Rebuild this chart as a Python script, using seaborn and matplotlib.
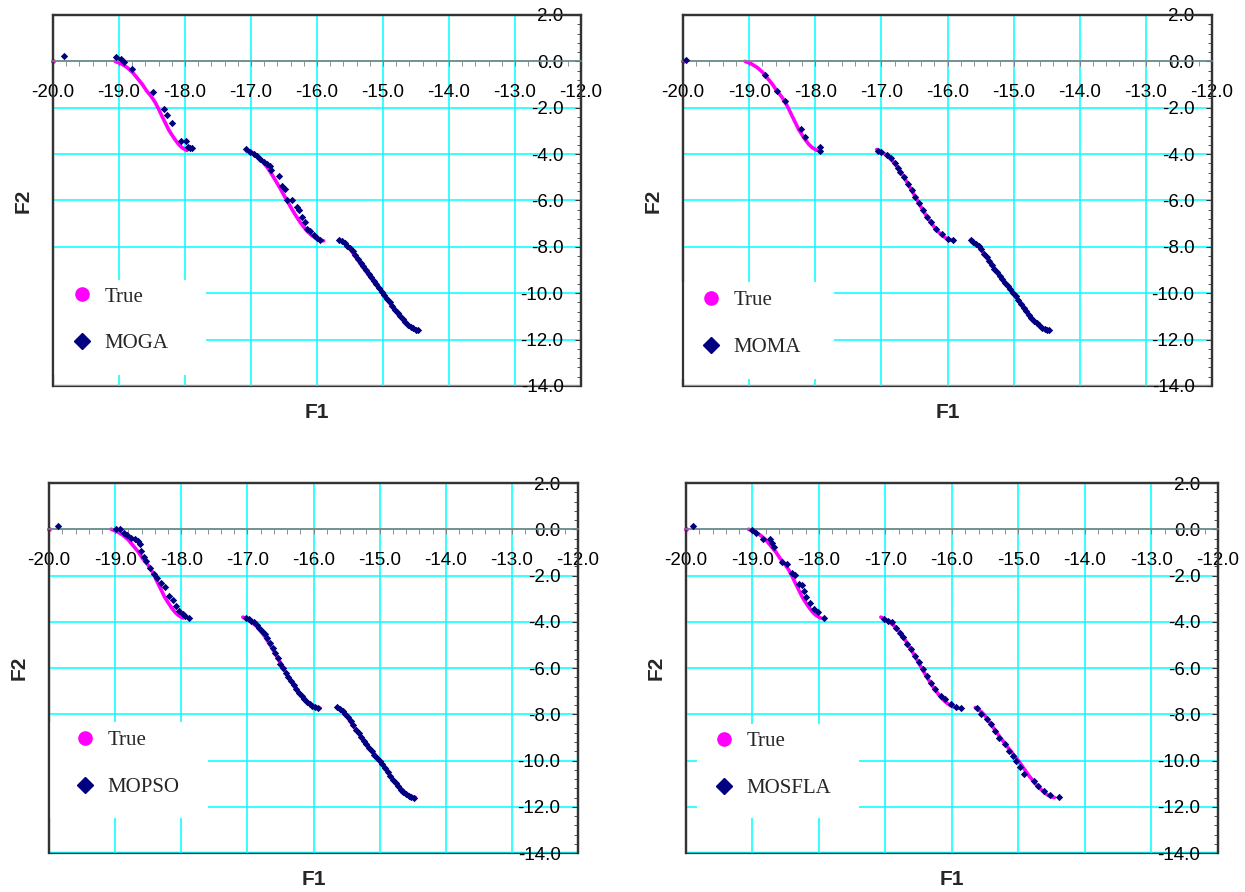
import pandas as pd
import matplotlib
matplotlib.use('Agg')
import matplotlib.pyplot as plt
from matplotlib.lines import Line2D
from matplotlib.patches import Rectangle
from matplotlib.ticker import MultipleLocator, FormatStrFormatter
import seaborn as sns

# true Pareto front: lone point at F1=-20 plus three pieces
true_iso_f1 = [-20.0]
true_iso_f2 = [0.0]
true_f1_a = [-19.06, -18.97, -18.88, -18.80, -18.73, -18.65, -18.58, -18.51, -18.45, -18.40,
             -18.35, -18.30, -18.25, -18.20, -18.15, -18.10, -18.05, -18.00, -17.97]
true_f2_a = [0.00, -0.10, -0.26, -0.46, -0.70, -0.98, -1.28, -1.52, -1.78, -2.06,
             -2.36, -2.65, -2.94, -3.17, -3.38, -3.57, -3.71, -3.80, -3.84]
true_f1_b = [-17.07, -17.00, -16.93, -16.86, -16.80, -16.74, -16.68, -16.62, -16.56, -16.50,
             -16.44, -16.38, -16.32, -16.26, -16.20, -16.14, -16.08, -16.02, -15.96, -15.90]
true_f2_b = [-3.80, -3.90, -4.03, -4.20, -4.40, -4.63, -4.90, -5.18, -5.47, -5.78,
             -6.08, -6.38, -6.66, -6.92, -7.15, -7.35, -7.51, -7.63, -7.70, -7.74]
true_f1_c = [-15.65, -15.60, -15.55, -15.50, -15.45, -15.40, -15.35, -15.30, -15.25, -15.20,
             -15.15, -15.10, -15.05, -15.00, -14.95, -14.90, -14.85, -14.80, -14.75, -14.70,
             -14.65, -14.60, -14.55, -14.50, -14.46]
true_f2_c = [-7.71, -7.80, -7.92, -8.07, -8.29, -8.49, -8.70, -8.90, -9.09, -9.28,
             -9.47, -9.65, -9.83, -10.01, -10.22, -10.42, -10.63, -10.81, -10.99, -11.15,
             -11.28, -11.42, -11.51, -11.57, -11.60]

names = ['MOGA', 'MOMA', 'MOPSO', 'MOSFLA']

MOGA_f1 = [-19.84, -19.05, -18.97, -18.92, -18.81, -18.49, -18.32, -18.27, -18.20, -18.06,
           -17.99, -17.96, -17.92, -17.89,
           -17.08, -17.02, -16.96, -16.91, -16.86, -16.81, -16.76, -16.72, -16.69, -16.58,
           -16.53, -16.48, -16.45, -16.38, -16.30, -16.28, -16.23, -16.18, -16.15, -16.10,
           -16.05, -16.00, -15.96,
           -15.66, -15.62, -15.58, -15.54, -15.50, -15.46, -15.42, -15.38, -15.34, -15.30,
           -15.26, -15.22, -15.18, -15.14, -15.10, -15.06, -15.02, -14.98, -14.94, -14.90,
           -14.86, -14.82, -14.78, -14.74, -14.70, -14.66, -14.62, -14.58, -14.54, -14.50,
           -14.47]
MOGA_f2 = [0.22, 0.17, 0.10, -0.04, -0.32, -1.30, -2.04, -2.32, -2.65, -3.42,
           -3.42, -3.70, -3.74, -3.74,
           -3.80, -3.91, -4.00, -4.09, -4.19, -4.33, -4.41, -4.52, -4.70, -4.96,
           -5.39, -5.49, -5.97, -6.00, -6.29, -6.43, -6.70, -6.94, -7.23, -7.33,
           -7.48, -7.62, -7.71,
           -7.69, -7.76, -7.85, -7.95, -8.05, -8.20, -8.36, -8.52, -8.70, -8.84,
           -9.00, -9.18, -9.32, -9.49, -9.62, -9.78, -9.93, -10.09, -10.25, -10.40,
           -10.57, -10.72, -10.86, -11.00, -11.13, -11.25, -11.36, -11.45, -11.52, -11.57,
           -11.60]

MOMA_f1 = [-19.95, -18.76, -18.58, -18.46, -18.22, -18.15, -17.93, -17.93,
           -17.05, -17.00, -16.92, -16.86, -16.80, -16.75, -16.72, -16.66, -16.60, -16.54,
           -16.49, -16.43, -16.37, -16.31, -16.25, -16.17, -16.08, -16.00, -15.92,
           -15.65, -15.61, -15.57, -15.53, -15.49, -15.45, -15.41, -15.37, -15.33, -15.29,
           -15.25, -15.21, -15.17, -15.13, -15.09, -15.05, -15.01, -14.97, -14.93, -14.89,
           -14.85, -14.81, -14.77, -14.73, -14.69, -14.65, -14.61, -14.57, -14.53, -14.49,
           -14.46]
MOMA_f2 = [0.06, -0.58, -1.26, -1.70, -2.90, -3.25, -3.68, -3.85,
           -3.85, -3.90, -4.04, -4.18, -4.40, -4.62, -4.76, -4.98, -5.27, -5.56,
           -5.87, -6.13, -6.42, -6.71, -6.93, -7.22, -7.43, -7.65, -7.72,
           -7.71, -7.78, -7.87, -7.98, -8.10, -8.29, -8.45, -8.61, -8.78, -8.94,
           -9.09, -9.24, -9.40, -9.55, -9.69, -9.83, -9.97, -10.13, -10.30, -10.46,
           -10.63, -10.77, -10.92, -11.05, -11.18, -11.29, -11.39, -11.48, -11.54, -11.58,
           -11.60]

MOPSO_f1 = [-19.87, -18.99, -18.92, -18.87, -18.82, -18.76, -18.70, -18.65, -18.63, -18.61,
            -18.57, -18.53, -18.47, -18.41, -18.36, -18.31, -18.25, -18.18, -18.13, -18.08,
            -18.03, -17.98, -17.94, -17.89,
            -17.02, -16.98, -16.94, -16.90, -16.86, -16.82, -16.78, -16.74, -16.70, -16.66,
            -16.62, -16.58, -16.54, -16.50, -16.46, -16.42, -16.38, -16.34, -16.30, -16.26,
            -16.22, -16.18, -16.14, -16.10, -16.06, -16.02, -15.98, -15.94,
            -15.64, -15.60, -15.56, -15.52, -15.48, -15.44, -15.40, -15.36, -15.32, -15.28,
            -15.24, -15.20, -15.16, -15.12, -15.08, -15.04, -15.00, -14.96, -14.92, -14.88,
            -14.84, -14.80, -14.76, -14.72, -14.68, -14.64, -14.60, -14.56, -14.52, -14.48]
MOPSO_f2 = [0.12, 0.00, 0.00, -0.14, -0.26, -0.36, -0.43, -0.51, -0.65, -0.94,
            -1.18, -1.37, -1.66, -1.95, -2.10, -2.31, -2.49, -2.89, -3.06, -3.32,
            -3.54, -3.68, -3.76, -3.83,
            -3.83, -3.88, -3.95, -4.03, -4.14, -4.26, -4.38, -4.52, -4.70, -4.90,
            -5.12, -5.35, -5.58, -5.82, -6.02, -6.22, -6.40, -6.58, -6.75, -6.92,
            -7.08, -7.23, -7.36, -7.47, -7.56, -7.64, -7.70, -7.73,
            -7.69, -7.77, -7.86, -7.97, -8.12, -8.31, -8.48, -8.66, -8.82, -8.98,
            -9.14, -9.30, -9.45, -9.60, -9.74, -9.88, -10.01, -10.17, -10.34, -10.50,
            -10.67, -10.83, -10.97, -11.12, -11.27, -11.36, -11.45, -11.53, -11.59, -11.63]

MOSFLA_f1 = [-19.89, -19.01, -18.94, -18.84, -18.74, -18.71, -18.67, -18.55, -18.48, -18.41,
             -18.36, -18.30, -18.26, -18.22, -18.20, -18.14, -18.07, -18.02, -17.92,
             -17.02, -16.96, -16.90, -16.84, -16.78, -16.73, -16.67, -16.61, -16.55, -16.49,
             -16.43, -16.37, -16.32, -16.26, -16.17, -16.11, -16.02, -15.94, -15.86,
             -15.63, -15.56, -15.47, -15.41, -15.35, -15.29, -15.20, -15.15, -15.09, -15.03,
             -14.97, -14.91, -14.77, -14.71, -14.62, -14.53, -14.39]
MOSFLA_f2 = [0.12, -0.03, -0.17, -0.43, -0.43, -0.58, -0.75, -1.41, -1.51, -1.87,
             -1.99, -2.38, -2.43, -2.67, -2.95, -3.17, -3.46, -3.57, -3.82,
             -3.88, -3.96, -4.03, -4.25, -4.47, -4.68, -4.97, -5.19, -5.48, -5.76,
             -6.05, -6.34, -6.63, -6.92, -7.20, -7.35, -7.56, -7.67, -7.71,
             -7.75, -8.00, -8.21, -8.43, -8.72, -9.01, -9.29, -9.58, -9.80, -10.01,
             -10.30, -10.59, -10.88, -11.10, -11.31, -11.50, -11.56]

algo_f1 = [MOGA_f1, MOMA_f1, MOPSO_f1, MOSFLA_f1]
algo_f2 = [MOGA_f2, MOMA_f2, MOPSO_f2, MOSFLA_f2]

true_df = pd.DataFrame({
    'F1': true_f1_a + true_f1_b + true_f1_c,
    'F2': true_f2_a + true_f2_b + true_f2_c,
    'seg': [0] * len(true_f1_a) + [1] * len(true_f1_b) + [2] * len(true_f1_c),
})

sns.set_style('white')
plt.rcParams['font.family'] = ['Liberation Sans', 'DejaVu Sans']

fig = plt.figure(figsize=(12.45, 8.92), dpi=100)
boxes = [[0.0426, 0.5673, 0.4241, 0.4159], [0.5486, 0.5673, 0.4249, 0.4159],
         [0.0394, 0.0437, 0.4249, 0.4148], [0.5510, 0.0437, 0.4273, 0.4148]]
# white legend patch (axes fraction) and legend anchor for each panel
leg_patch = [(0.0, 0.029, 0.29, 0.257), (-0.004, 0.019, 0.29, 0.26),
             (0.0, 0.094, 0.30, 0.261), (0.02, 0.094, 0.305, 0.254)]
leg_anchor = [(0.02, 0.177), (0.018, 0.167), (0.034, 0.241), (0.038, 0.238)]

pink = '#FF00FF'
navy = '#000080'

for i, name in enumerate(names):
    ax = fig.add_axes(boxes[i])
    ax.set_xlim(-20, -12)
    ax.set_ylim(-14, 2)
    ax.set_axisbelow(True)

    sns.lineplot(data=true_df, x='F1', y='F2', units='seg', estimator=None, sort=False,
                 color=pink, lw=2.6, ax=ax, legend=False, zorder=2)
    sns.scatterplot(x=true_iso_f1, y=true_iso_f2, color=pink, s=12, linewidth=0,
                    ax=ax, legend=False, zorder=2, clip_on=False)
    sns.scatterplot(x=algo_f1[i], y=algo_f2[i], marker='D', color=navy, s=14,
                    linewidth=0, ax=ax, legend=False, zorder=3)

    ax.xaxis.set_major_locator(MultipleLocator(1))
    ax.xaxis.set_minor_locator(MultipleLocator(0.2))
    ax.yaxis.set_major_locator(MultipleLocator(2))
    ax.yaxis.set_minor_locator(MultipleLocator(0.4))
    ax.xaxis.set_major_formatter(FormatStrFormatter('%.1f'))
    ax.yaxis.set_major_formatter(FormatStrFormatter('%.1f'))
    ax.grid(True, which='major', color='#00FFFF', lw=1.1)

    # x axis crosses at F2 = 0, the box is drawn by the axes patch
    ax.spines['bottom'].set_position(('data', 0))
    ax.spines['bottom'].set_color('#808080')
    ax.spines['bottom'].set_linewidth(1.2)
    for s in ['top', 'left', 'right']:
        ax.spines[s].set_color('#333333')
        ax.spines[s].set_linewidth(1.6)
    ax.patch.set_edgecolor('#333333')
    ax.patch.set_linewidth(1.6)

    ax.tick_params(axis='x', which='both', direction='out', bottom=True, top=False,
                   color='#808080', labelcolor='black', labelsize=13.5)
    ax.tick_params(axis='x', which='major', length=3.6, pad=12.5)
    ax.tick_params(axis='x', which='minor', length=3.6)
    ax.yaxis.tick_right()
    ax.tick_params(axis='y', which='both', direction='in', left=False, right=True,
                   labelleft=False, labelright=True, color='#333333',
                   labelcolor='black', labelsize=13.5)
    ax.tick_params(axis='y', which='major', length=4.5, pad=-12.6)
    ax.tick_params(axis='y', which='minor', length=3.2)
    plt.setp(ax.yaxis.get_majorticklabels(), ha='right')

    ax.yaxis.set_label_position('left')
    ax.set_ylabel('F2', fontsize=15, fontweight='bold', labelpad=15)
    ax.set_xlabel('F1', fontsize=15, fontweight='bold')
    ax.xaxis.set_label_coords(0.5, -0.045)

    px, py, pw, ph = leg_patch[i]
    ax.add_patch(Rectangle((px, py), pw, ph, transform=ax.transAxes, facecolor='white',
                           edgecolor='none', zorder=1.5, clip_on=False))
    handles = [Line2D([], [], ls='none', marker='o', ms=9.5, color=pink),
               Line2D([], [], ls='none', marker='D', ms=8.5, color=navy)]
    ax.legend(handles, ['True', name], loc='center left', bbox_to_anchor=leg_anchor[i],
              frameon=False, prop={'family': 'Liberation Serif', 'size': 15},
              handlelength=1.75, handletextpad=0.2, labelspacing=1.3,
              borderpad=0, borderaxespad=0)

fig.savefig('out.png', dpi=100)
